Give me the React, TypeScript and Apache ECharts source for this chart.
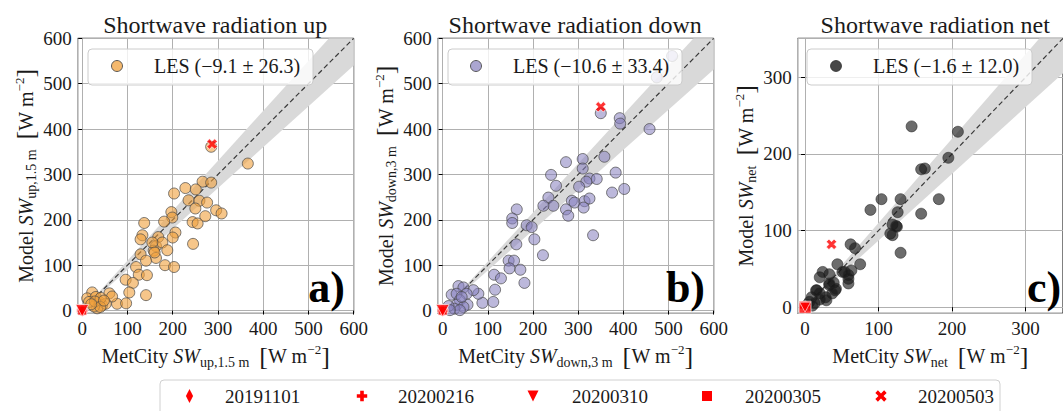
import React, { useEffect, useRef } from "react";
import * as echarts from "echarts";

const FONT = "Liberation Serif, Times New Roman, serif";
const INK = "#1a1a1a";

const panelTitles = ["Shortwave radiation up", "Shortwave radiation down", "Shortwave radiation net"];
const panelLetters = ["a)", "b)", "c)"];
const legendLabels = ["LES (\u22129.1 \u00b1 26.3)", "LES (\u221210.6 \u00b1 33.4)", "LES (\u22121.6 \u00b1 12.0)"];
const subscripts = ["up,1.5 m", "down,3 m", "net"];

// [MetCity, Model]
const swUp = [
  [366, 324], [228, 270], [203, 258], [266, 284], [285, 282], [251, 267], [235, 243], [259, 242],
  [276, 238], [250, 225], [296, 221], [308, 214], [197, 217], [199, 205], [181, 196], [206, 172],
  [200, 161], [244, 195], [255, 192], [272, 208], [245, 147], [137, 193], [133, 166], [129, 157],
  [168, 162], [163, 142], [177, 150], [158, 132], [163, 116], [188, 133], [129, 124], [141, 110],
  [183, 100], [203, 96], [119, 96], [125, 79], [143, 78], [96, 68], [112, 61], [104, 40],
  [141, 34], [77, 15], [97, 16], [60, 38], [66, 31], [22, 40], [11, 27], [30, 30],
  [37, 20], [44, 12], [33, 5], [26, 9], [52, 15], [15, 19], [41, 28], [285, 361],
  [155, 150], [160, 128], [28, 20], [40, 8], [48, 22], [20, 14],
];
const swDown = [
  [508, 561], [474, 514], [350, 435], [392, 424], [393, 412], [458, 400], [358, 339], [310, 334],
  [273, 327], [310, 313], [383, 304], [240, 299], [251, 275], [325, 291], [341, 290], [318, 284],
  [302, 273], [234, 249], [245, 231], [223, 231], [286, 242], [292, 238], [314, 241], [312, 227],
  [325, 247], [375, 260], [402, 268], [273, 223], [278, 209], [333, 166], [164, 223], [154, 203],
  [154, 193], [163, 146], [186, 188], [197, 184], [203, 157], [222, 122], [146, 110], [158, 110],
  [148, 93], [172, 90], [181, 61], [114, 79], [129, 71], [116, 46], [88, 17], [112, 19],
  [79, 37], [68, 45], [35, 54], [46, 51], [20, 35], [31, 37], [53, 37], [38, 23],
  [55, 13], [31, 13], [46, 8], [26, 4], [13, 10], [38, 1], [16, 1], [42, 30],
];
const swNet = [
  [145, 236], [208, 229], [195, 195], [158, 180], [163, 181], [104, 141], [130, 141], [182, 141],
  [89, 127], [126, 124], [158, 122], [119, 108], [124, 106], [116, 96], [119, 94], [125, 105],
  [130, 71], [62, 82], [68, 77], [44, 56], [75, 56], [63, 48], [54, 46], [59, 37],
  [33, 43], [20, 39], [24, 46], [39, 32], [41, 22], [15, 22], [9, 13], [20, 18],
  [28, 13], [6, 7], [13, 5], [20, 10], [3, 3], [33, 29], [51, 46], [59, 42],
  [33, 31], [59, 31], [42, 24], [16, 22], [37, 18], [29, 9], [10, 2],
];

const caseDates = ["20191101", "20200216", "20200310", "20200305", "20200503"];
const caseUp = [[0, 0], [0, 0], [0, 0], [0, 0], [287, 367]];
const caseDown = [[0, 0], [0, 0], [0, 0], [0, 0], [350, 449]];
const caseNet = [[0, 0], [0, 0], [0, 0], [0, 0], [36, 82]];

const xMin = [-10, -11, -10];
const yMin = [-6, -6, -8];
const axisMax = [600, 600, 351];
const lineStart = [35, 35, 15];
const bandRatio = [[0.9, 1.1], [0.885, 1.08], [0.87, 1.1]];

const panels = [
  { pts: swUp, cases: caseUp, fill: "rgba(240,160,60,0.75)", edge: "#4a4a4a", sq: 9, tri: [13, 12] },
  { pts: swDown, cases: caseDown, fill: "rgba(135,128,190,0.7)", edge: "#4a4a4a", sq: 9, tri: [13, 12] },
  { pts: swNet, cases: caseNet, fill: "rgba(25,25,25,0.8)", edge: "rgba(40,40,40,0.8)", sq: 12, tri: [11, 10] },
];

const GRID_LEFT = [77.7, 437.7, 797.7];
const GRID_TOP = 38.3;
const GRID_W = 276;
const GRID_H = 275;

const PLUS = "path://M-1.7,-5H1.7V-1.7H5V1.7H1.7V5H-1.7V1.7H-5V-1.7H-1.7Z";
const caseSymbols = (sq: number, tri: number[]) => [
  { symbol: "diamond", symbolSize: [7, 13], symbolRotate: 0 },
  { symbol: PLUS, symbolSize: 11, symbolRotate: 0 },
  { symbol: "triangle", symbolSize: tri, symbolRotate: 180 },
  { symbol: "rect", symbolSize: sq, symbolRotate: 0 },
  { symbol: PLUS, symbolSize: 11, symbolRotate: 45 },
];
const caseDrawOrder = [0, 1, 3, 2, 4];

const rich = {
  n: { fontFamily: FONT, fontSize: 20, color: INK, lineHeight: 26 },
  i: { fontFamily: FONT, fontSize: 20, fontStyle: "italic", color: INK, lineHeight: 26 },
  s: { fontFamily: FONT, fontSize: 14, color: INK, lineHeight: 12, verticalAlign: "bottom" },
  p: { fontFamily: FONT, fontSize: 13, color: INK, lineHeight: 12, verticalAlign: "top" },
  b: { fontFamily: FONT, fontSize: 26, color: INK, lineHeight: 26 },
};
const axisName = (prefix: string, sub: string) =>
  `{n|${prefix} }{i|SW}{s|${sub}}{n|  }{b|[}{n|W m}{p|\u22122}{b|]}`;

function buildOption() {
  const grid = GRID_LEFT.map((l) => ({
    left: l, top: GRID_TOP, width: GRID_W, height: GRID_H,
    show: true, borderColor: "#000", borderWidth: 1, backgroundColor: "transparent",
  }));
  const common = (i: number) => ({
    type: "value",
    gridIndex: i,
    minInterval: 100,
    maxInterval: 100,
    axisLine: { show: false },
    axisTick: { show: true, inside: false, length: 4, lineStyle: { color: "#000", width: 1 } },
    splitLine: { show: true, lineStyle: { color: "#b0b0b0", width: 1 } },
    nameLocation: "middle",
    nameTextStyle: { rich },
    nameMoveOverlap: false,
  });
  const labelStyle = (i: number) => ({
    fontFamily: FONT, fontSize: 19, color: INK, margin: 6,
    showMinLabel: false, showMaxLabel: i < 2,
    formatter: (v: number) => (v % 100 === 0 ? String(v) : ""),
  });
  const xAxis = [0, 1, 2].map((i) => ({
    ...common(i),
    min: xMin[i],
    max: axisMax[i],
    name: axisName("MetCity", subscripts[i]),
    nameGap: 30,
    axisLabel: labelStyle(i),
  }));
  const yAxis = [0, 1, 2].map((i) => ({
    ...common(i),
    min: yMin[i],
    max: axisMax[i],
    name: axisName("Model", subscripts[i]),
    nameGap: 39,
    nameRotate: 90,
    axisLabel: labelStyle(i),
  }));

  const series: any[] = [];
  panels.forEach((p, i) => {
    const [r1, r2] = bandRatio[i];
    const x0 = lineStart[i];
    const x1 = axisMax[i];
    const ym = axisMax[i];
    const bandPts = [[x0, r1 * x0], [x1, r1 * x1], [x1, ym], [ym / r2, ym], [x0, r2 * x0]];
    series.push({
      type: "custom",
      xAxisIndex: i, yAxisIndex: i,
      data: [[0, 0]],
      clip: true,
      silent: true,
      z: 1,
      renderItem: (_params: any, api: any) => ({
        type: "polygon",
        shape: { points: bandPts.map((q) => api.coord(q)) },
        style: { fill: "#d9d9d9" },
      }),
    });
    series.push({
      type: "line",
      xAxisIndex: i, yAxisIndex: i,
      data: [[x0, x0], [x1, x1]],
      showSymbol: false,
      silent: true,
      z: 2,
      lineStyle: { color: "#3a3a3a", width: 1.2, type: [5, 3] },
    });
    series.push({
      type: "scatter",
      name: legendLabels[i],
      xAxisIndex: i, yAxisIndex: i,
      data: p.pts,
      symbolSize: 11,
      z: 3,
      itemStyle: { color: p.fill, borderColor: p.edge, borderWidth: 0.9 },
    });
    const syms = caseSymbols(p.sq, p.tri);
    series.push({
      type: "scatter",
      xAxisIndex: i, yAxisIndex: i,
      z: 4,
      data: caseDrawOrder.map((k) => ({
        name: caseDates[k],
        value: p.cases[k],
        ...syms[k],
      })),
      itemStyle: { color: "#ff0000", borderColor: "#ffffff", borderWidth: 0.8 },
    });
  });

  const graphic: any[] = [];
  const centers = GRID_LEFT.map((l) => l + GRID_W / 2);
  panelTitles.forEach((t, i) => {
    graphic.push({
      type: "text", x: centers[i] - 0.5, y: 25, z: 100,
      style: { text: t, fontFamily: FONT, fontSize: 24, fill: INK, align: "center", verticalAlign: "middle" },
    });
  });
  const legBoxes = [
    { x: 88, w: 225, cx: 117, tx: 154 },
    { x: 448, w: 234, cx: 476, tx: 513 },
    { x: 807, w: 225, cx: 836, tx: 873 },
  ];
  legBoxes.forEach((b, i) => {
    graphic.push({
      type: "rect", z: 100,
      shape: { x: b.x, y: 49, width: b.w, height: 36, r: 4 },
      style: { fill: "rgba(255,255,255,0.8)", stroke: "#cccccc", lineWidth: 1 },
    });
    graphic.push({
      type: "circle", z: 101,
      shape: { cx: b.cx, cy: 66, r: 5.5 },
      style: { fill: panels[i].fill, stroke: panels[i].edge, lineWidth: 0.9 },
    });
    graphic.push({
      type: "text", x: b.tx, y: 66, z: 101,
      style: { text: legendLabels[i], fontFamily: FONT, fontSize: 20, fill: INK, align: "left", verticalAlign: "middle" },
    });
  });
  const letterPos = [
    { x: 345, align: "right" },
    { x: 705, align: "right" },
    { x: 1027, align: "left" },
  ];
  panelLetters.forEach((t, i) => {
    graphic.push({
      type: "text", x: letterPos[i].x, y: 287, z: 100,
      style: {
        text: t, fontFamily: FONT, fontSize: 44, fontWeight: "bold", fill: "#000",
        align: letterPos[i].align, verticalAlign: "middle",
      },
    });
  });

  // bottom legend
  graphic.push({
    type: "rect", z: 100,
    shape: { x: 160, y: 380, width: 840, height: 45, r: 4 },
    style: { fill: "rgba(255,255,255,0.8)", stroke: "#d0d0d0", lineWidth: 1 },
  });
  const iconX = [189.5, 362, 533, 707, 881];
  const textX = [225, 398, 572, 745, 918];
  const cy = 396;
  const red = { fill: "#ff0000" };
  const plusPts = (h: number, w: number) => [
    [-w, -h], [w, -h], [w, -w], [h, -w], [h, w], [w, w], [w, h], [-w, h], [-w, w], [-h, w], [-h, -w], [-w, -w],
  ];
  graphic.push({
    type: "polygon", z: 101, x: iconX[0], y: cy,
    shape: { points: [[0, -7], [3.6, 0], [0, 7], [-3.6, 0]] }, style: red,
  });
  graphic.push({ type: "polygon", z: 101, x: iconX[1], y: cy, shape: { points: plusPts(5.2, 1.8) }, style: red });
  graphic.push({
    type: "polygon", z: 101, x: iconX[2], y: cy,
    shape: { points: [[-5.5, -5.5], [5.5, -5.5], [0, 5.5]] }, style: red,
  });
  graphic.push({ type: "rect", z: 101, shape: { x: iconX[3] - 5, y: cy - 5, width: 10, height: 10 }, style: red });
  graphic.push({
    type: "polygon", z: 101, x: iconX[4], y: cy, rotation: Math.PI / 4,
    shape: { points: plusPts(6.2, 1.8) }, style: red,
  });
  caseDates.forEach((d, k) => {
    graphic.push({
      type: "text", x: textX[k], y: cy, z: 101,
      style: { text: d, fontFamily: FONT, fontSize: 19, fill: INK, align: "left", verticalAlign: "middle" },
    });
  });

  return { animation: false, backgroundColor: "#ffffff", grid, xAxis, yAxis, series, graphic };
}

export default function App() {
  const ref = useRef<HTMLDivElement>(null);
  useEffect(() => {
    if (!ref.current) return;
    const chart = echarts.init(ref.current, undefined, { renderer: "svg" });
    chart.setOption(buildOption() as any);
    return () => chart.dispose();
  }, []);
  return (
    <div
      ref={ref}
      style={{ position: "fixed", left: 0, top: 0, width: 1063, height: 411, background: "#fff" }}
    />
  );
}
